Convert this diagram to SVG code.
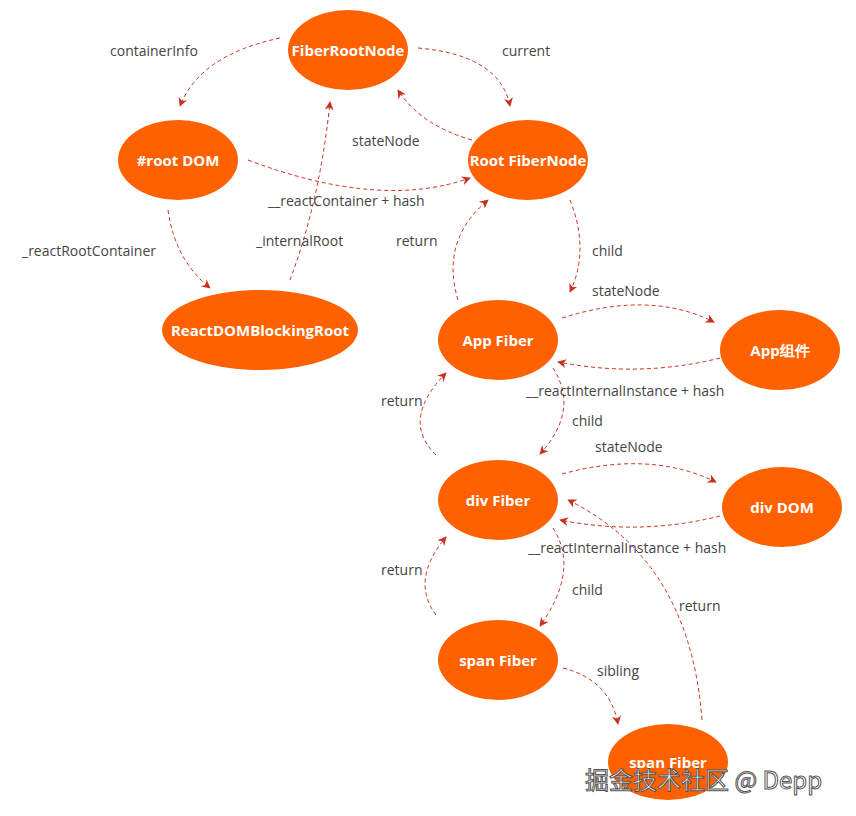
<svg xmlns="http://www.w3.org/2000/svg" width="856" height="816" viewBox="0 0 856 816">
<style>
.n{fill:#ff6000}
.t{fill:#fff;font-family:"Comic Sans MS","Open Sans",sans-serif;font-size:15px;font-weight:bold;text-anchor:middle;dominant-baseline:central}
.l{fill:#444;font-family:"Comic Sans MS","Open Sans",sans-serif;font-size:14px}
.c path{fill:none;stroke:#c8301e;stroke-width:1;stroke-dasharray:4 3;marker-end:url(#a)}
</style>
<defs><marker id="a" viewBox="0 0 10 10" refX="9" refY="5" markerWidth="9" markerHeight="9" orient="auto" markerUnits="userSpaceOnUse"><path d="M0,0L10,5L0,10L3,5z" fill="#c8301e"/></marker></defs>
<rect width="856" height="816" fill="#fff"/>
<g class="c">
<path d="M280,38Q200,55 180,106"/>
<path d="M418,48Q500,55 510,106"/>
<path d="M472,140Q420,125 398,90"/>
<path d="M248,160Q380,210 470,178"/>
<path d="M168,210Q175,260 210,288"/>
<path d="M290,280Q320,200 330,102"/>
<path d="M458,300Q440,240 488,200"/>
<path d="M570,200Q590,250 570,292"/>
<path d="M562,318Q650,290 714,322"/>
<path d="M720,358Q640,378 558,362"/>
<path d="M436,455Q400,420 446,373"/>
<path d="M553,368Q580,410 540,454"/>
<path d="M562,474Q650,450 716,482"/>
<path d="M720,516Q640,536 560,520"/>
<path d="M436,615Q410,580 446,537"/>
<path d="M553,528Q580,570 540,626"/>
<path d="M563,668Q610,680 618,724"/>
<path d="M702,720Q690,560 568,500"/>
</g>
<g class="l">
<text x="110" y="56">containerInfo</text>
<text x="502" y="56">current</text>
<text x="352" y="146">stateNode</text>
<text x="268" y="206">__reactContainer + hash</text>
<text x="22" y="256">_reactRootContainer</text>
<text x="256" y="246">_internalRoot</text>
<text x="396" y="246">return</text>
<text x="592" y="256">child</text>
<text x="592" y="296">stateNode</text>
<text x="526" y="396">__reactInternalInstance + hash</text>
<text x="381" y="406">return</text>
<text x="572" y="426">child</text>
<text x="595" y="452">stateNode</text>
<text x="528" y="553">__reactInternalInstance + hash</text>
<text x="381" y="575">return</text>
<text x="572" y="595">child</text>
<text x="679" y="611">return</text>
<text x="597" y="676">sibling</text>
</g>
<g id="fiberRootNode"><ellipse class="n" cx="348" cy="50" rx="60" ry="40"/><text class="t" x="348" y="50">FiberRootNode</text></g>
<g id="rootDom"><ellipse class="n" cx="178" cy="160" rx="60" ry="40"/><text class="t" x="178" y="160">#root DOM</text></g>
<g id="rootFiberNode"><ellipse class="n" cx="528" cy="160" rx="60" ry="40"/><text class="t" x="528" y="160">Root FiberNode</text></g>
<g id="blockingRoot"><ellipse class="n" cx="260" cy="330" rx="98" ry="40"/><text class="t" x="260" y="330">ReactDOMBlockingRoot</text></g>
<g id="appFiber"><ellipse class="n" cx="498" cy="340" rx="60" ry="40"/><text class="t" x="498" y="340">App Fiber</text></g>
<g id="appComp"><ellipse class="n" cx="780" cy="350" rx="60" ry="40"/><text class="t" x="780" y="350" font-family="'Comic Sans MS','Noto Sans CJK SC',sans-serif">App组件</text></g>
<g id="divFiber"><ellipse class="n" cx="498" cy="500" rx="60" ry="40"/><text class="t" x="498" y="500">div Fiber</text></g>
<g id="divDom"><ellipse class="n" cx="782" cy="507" rx="60" ry="40"/><text class="t" x="782" y="507">div DOM</text></g>
<g id="spanFiber1"><ellipse class="n" cx="498" cy="660" rx="60" ry="40"/><text class="t" x="498" y="660">span Fiber</text></g>
<g id="spanFiber2"><ellipse class="n" cx="668" cy="762" rx="60" ry="38"/><text class="t" x="668" y="762">span Fiber</text></g>
<text x="585" y="789" font-family="'Noto Sans CJK SC',sans-serif" font-size="24" fill="#fff" stroke="#555" stroke-width="1">掘金技术社区 @ Depp</text>
</svg>
